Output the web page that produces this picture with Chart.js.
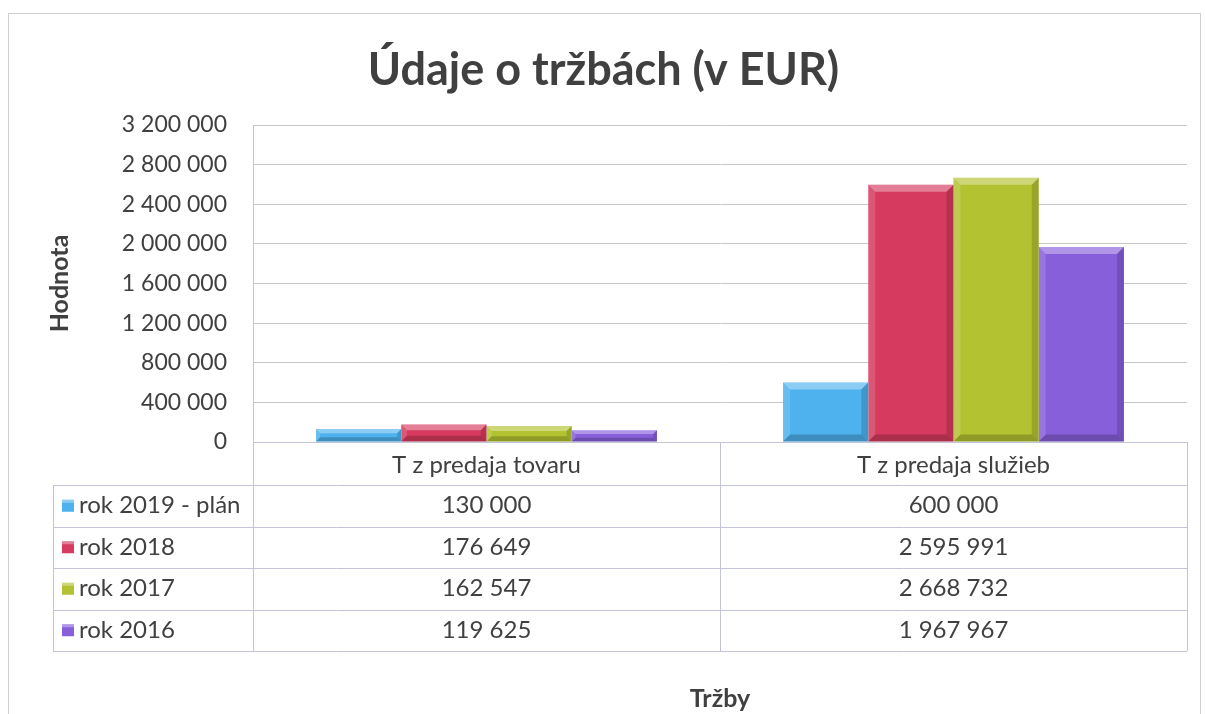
<!DOCTYPE html>
<html>
<head>
<meta charset="utf-8">
<script src="https://cdn.jsdelivr.net/npm/chart.js@4.4.1/dist/chart.umd.min.js"></script>
<style>
	html, body { margin: 0; padding: 0; background: #fff; }
	#wrap { width: 1205px; height: 714px; }
</style>
</head>
<body>
<div id="wrap"><canvas id="salesChart" width="1205" height="714"></canvas></div>
<script>
var categories = ['T z predaja tovaru', 'T z predaja služieb'];
var seriesNames = ['rok 2019 - plán', 'rok 2018', 'rok 2017', 'rok 2016'];
var plan2019 = [130000, 600000];
var rok2018 = [176649, 2595991];
var rok2017 = [162547, 2668732];
var rok2016 = [119625, 1967967];
var seriesColors = ['#4db2ee', '#d63a5e', '#b2c231', '#875fdb'];

var textColor = '#404040';
var fontFamily = 'Lato, "Open Sans", sans-serif';

var fmt = function(v) {
	return String(v).replace(/\B(?=(\d{3})+(?!\d))/g, ' ');
};

// white background + thin frame around the whole chart
var frame = {
	id: 'frame',
	beforeDraw: function(chart) {
		var ctx = chart.ctx;
		ctx.save();
		ctx.fillStyle = '#fff';
		ctx.fillRect(0, 0, chart.width, chart.height);
		ctx.strokeStyle = '#cfcfcf';
		ctx.lineWidth = 1;
		ctx.strokeRect(8.5, 13.5, 1192, 720);
		ctx.restore();
	}
};

// bevel look on the bars
var bevel = {
	id: 'bevel',
	afterDatasetsDraw: function(chart) {
		var ctx = chart.ctx;
		ctx.save();
		chart.data.datasets.forEach(function(ds, i) {
			chart.getDatasetMeta(i).data.forEach(function(bar) {
				var l = bar.x - bar.width / 2, r = bar.x + bar.width / 2;
				var t = bar.y, b = bar.base;
				var s = Math.min(7, (b - t) / 3);
				ctx.fillStyle = 'rgba(255,255,255,0.35)';
				ctx.beginPath();
				ctx.moveTo(l, t); ctx.lineTo(r, t); ctx.lineTo(r - s, t + s); ctx.lineTo(l + s, t + s);
				ctx.closePath(); ctx.fill();
				ctx.fillStyle = 'rgba(255,255,255,0.15)';
				ctx.beginPath();
				ctx.moveTo(l, t); ctx.lineTo(l + s, t + s); ctx.lineTo(l + s, b - s); ctx.lineTo(l, b);
				ctx.closePath(); ctx.fill();
				ctx.fillStyle = 'rgba(0,0,0,0.15)';
				ctx.beginPath();
				ctx.moveTo(r, t); ctx.lineTo(r - s, t + s); ctx.lineTo(r - s, b - s); ctx.lineTo(r, b);
				ctx.closePath(); ctx.fill();
				ctx.fillStyle = 'rgba(0,0,0,0.2)';
				ctx.beginPath();
				ctx.moveTo(l, b); ctx.lineTo(l + s, b - s); ctx.lineTo(r - s, b - s); ctx.lineTo(r, b);
				ctx.closePath(); ctx.fill();
			});
		});
		ctx.restore();
	}
};

// data table under the plot
var dataTable = {
	id: 'dataTable',
	afterDraw: function(chart) {
		var ctx = chart.ctx, xs = chart.scales.x, area = chart.chartArea;
		var headH = 43, rowH = 41.5;
		var top = area.bottom, left = 53, right = area.right;
		var bottom = top + headH + rowH * seriesNames.length;
		var mid = (xs.getPixelForValue(0) + xs.getPixelForValue(1)) / 2;
		var rnd = function(v) { return Math.round(v) + 0.5; };

		ctx.save();
		ctx.strokeStyle = '#c4c4d8';
		ctx.lineWidth = 1;
		ctx.beginPath();
		for (var i = 0; i <= seriesNames.length; i++) {
			var y = rnd(top + headH + rowH * i);
			ctx.moveTo(left, y); ctx.lineTo(right, y);
		}
		ctx.moveTo(rnd(area.left), top); ctx.lineTo(rnd(area.left), bottom);
		ctx.moveTo(rnd(mid), top); ctx.lineTo(rnd(mid), bottom);
		ctx.moveTo(rnd(right), top); ctx.lineTo(rnd(right), bottom);
		ctx.moveTo(rnd(left), top + headH); ctx.lineTo(rnd(left), bottom);
		ctx.stroke();

		ctx.font = '24px ' + fontFamily;
		ctx.fillStyle = textColor;
		ctx.textBaseline = 'middle';
		chart.data.datasets.forEach(function(ds, i) {
			var cy = top + headH + rowH * i + rowH / 2;
			ctx.fillStyle = ds.backgroundColor;
			ctx.fillRect(62, cy - 6, 12, 12);
			ctx.fillStyle = 'rgba(255,255,255,0.35)';
			ctx.fillRect(62, cy - 6, 12, 3);
			ctx.fillStyle = textColor;
			ctx.textAlign = 'left';
			ctx.fillText(ds.label, 79, cy);
			ctx.textAlign = 'center';
			ds.data.forEach(function(v, j) {
				ctx.fillText(fmt(v), xs.getPixelForValue(j), cy);
			});
		});
		ctx.restore();
	}
};

var salesChart = new Chart(document.getElementById('salesChart'), {
	type: 'bar',
	data: {
		labels: categories,
		datasets: [plan2019, rok2018, rok2017, rok2016].map(function(vals, i) {
			return {
				label: seriesNames[i],
				data: vals,
				backgroundColor: seriesColors[i],
				borderWidth: 0,
				barPercentage: 1,
				categoryPercentage: 0.73
			};
		})
	},
	options: {
		responsive: false,
		animation: false,
		layout: { padding: { left: 20, right: 18, top: 0, bottom: 0 } },
		plugins: {
			legend: { display: false },
			tooltip: { enabled: false },
			title: {
				display: true,
				text: 'Údaje o tržbách (v EUR)',
				color: textColor,
				font: { family: fontFamily, size: 45, weight: 'bold', lineHeight: 1.2 },
				padding: { top: 43, bottom: 28 }
			}
		},
		scales: {
			x: {
				grid: { display: false, drawTicks: false },
				border: { display: true, color: '#c4c4d8' },
				ticks: { color: textColor, font: { family: fontFamily, size: 24 }, padding: 9 },
				title: {
					display: true,
					text: 'Tržby',
					color: textColor,
					font: { family: fontFamily, size: 25, weight: 'bold', lineHeight: 1.2 },
					padding: { top: 0, bottom: 0 }
				},
				afterFit: function(scale) { scale.height = 272; }
			},
			y: {
				min: 0,
				max: 3200000,
				grid: { color: '#c8c8c8', drawTicks: false },
				border: { display: true, color: '#c4c4d8' },
				ticks: {
					stepSize: 400000,
					color: textColor,
					font: { family: fontFamily, size: 23 },
					padding: 26,
					callback: function(v) { return fmt(v); }
				},
				title: {
					display: true,
					text: 'Hodnota',
					color: textColor,
					font: { family: fontFamily, size: 25, weight: 'bold', lineHeight: 1.2 },
					padding: { top: 25, bottom: 0 }
				},
				afterFit: function(scale) { scale.width = 233; }
			}
		}
	},
	plugins: [frame, bevel, dataTable]
});
</script>
</body>
</html>
